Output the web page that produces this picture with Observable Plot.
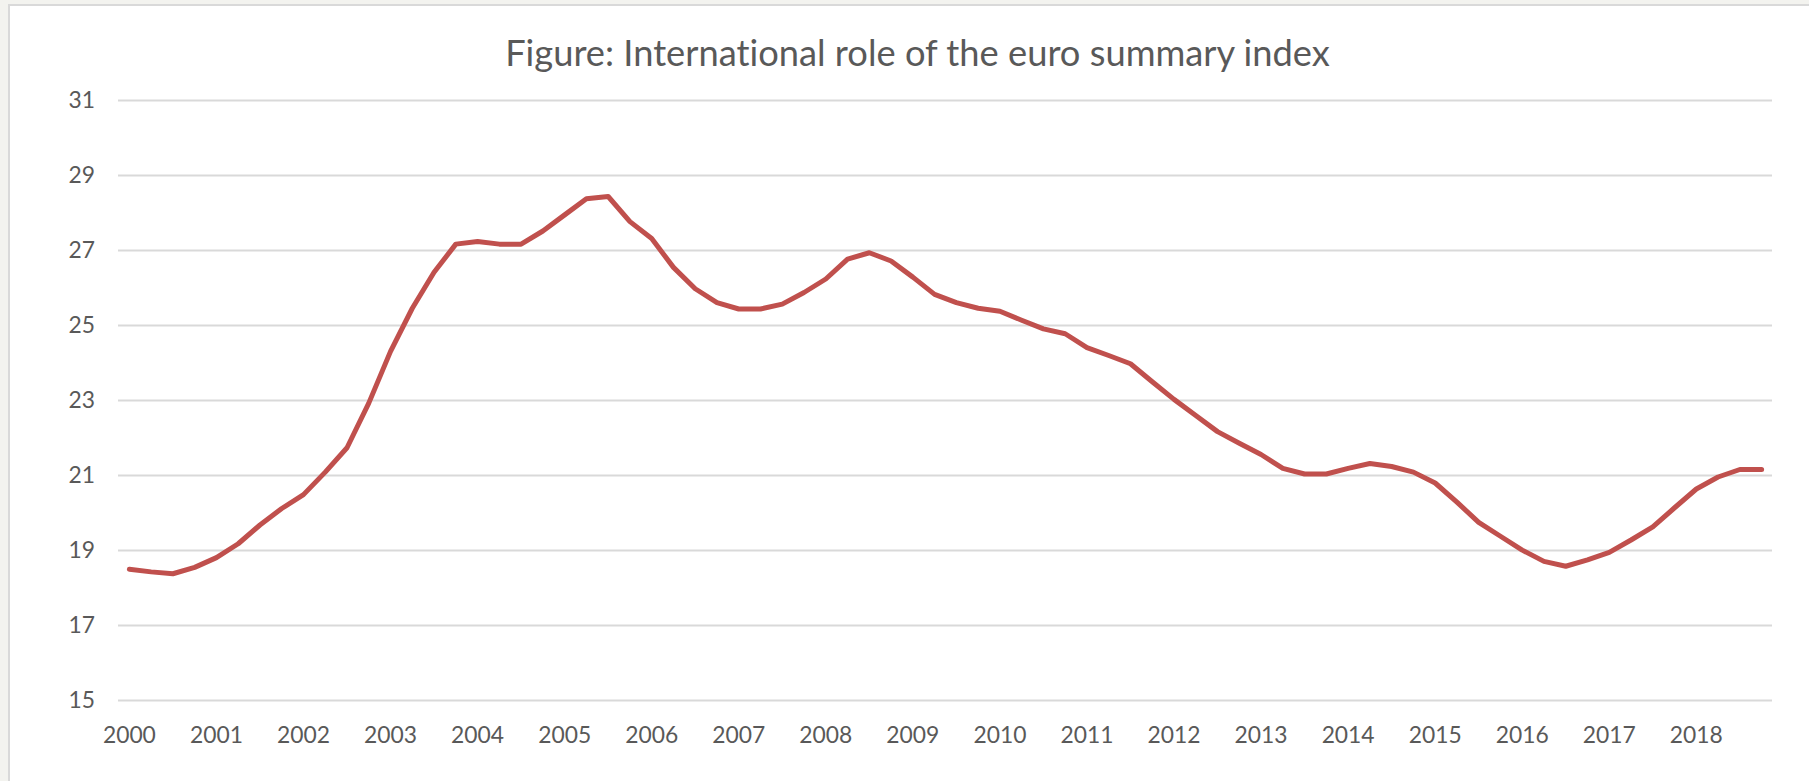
<!DOCTYPE html>
<html>
<head>
<meta charset="utf-8">
<script src="https://cdn.jsdelivr.net/npm/d3@7"></script>
<script src="https://cdn.jsdelivr.net/npm/@observablehq/plot@0.6"></script>
<style>
  html, body { margin: 0; padding: 0; background: #f3f3ef; overflow: hidden; width: 1809px; height: 781px; }
  #frame { position: absolute; left: 8px; top: 4px; width: 1900px; height: 900px; background: #ffffff; border: 2px solid #d9d9d9; }
  #chart { position: absolute; left: 0; top: 0; }
  #title { position: absolute; left: 0; width: 1835px; text-align: center; font-family: Lato, "Open Sans", sans-serif; color: #595959; white-space: nowrap; line-height: 1.2; font-variant-ligatures: none; font-feature-settings: "liga" 0, "clig" 0; }
</style>
</head>
<body>
<div id="frame"></div>
<div id="chart"></div>
<div id="title"></div>
<script>
// ---- Data ----
const titleText = "Figure: International role of the euro summary index";
const years = [2000, 2001, 2002, 2003, 2004, 2005, 2006, 2007, 2008, 2009, 2010, 2011, 2012, 2013, 2014, 2015, 2016, 2017, 2018];
const yTicks = [15, 17, 19, 21, 23, 25, 27, 29, 31];
// Quarterly values, 2000 Q1 .. 2018 Q4
const values = [
  18.50, 18.43, 18.38, 18.55,
  18.81, 19.18, 19.68, 20.12,
  20.49, 21.09, 21.74, 22.93,
  24.31, 25.46, 26.42, 27.17,
  27.24, 27.17, 27.17, 27.52,
  27.95, 28.38, 28.44, 27.77,
  27.32, 26.55, 25.98, 25.61,
  25.44, 25.44, 25.57, 25.88,
  26.24, 26.77, 26.94, 26.72,
  26.29, 25.83, 25.61, 25.46,
  25.38, 25.14, 24.91, 24.78,
  24.41, 24.20, 23.98, 23.50,
  23.03, 22.60, 22.17, 21.86,
  21.56, 21.19, 21.04, 21.04,
  21.19, 21.32, 21.24, 21.09,
  20.80, 20.29, 19.75, 19.38,
  19.01, 18.71, 18.58, 18.75,
  18.95, 19.28, 19.63, 20.14,
  20.64, 20.96, 21.16, 21.16
];
const quarters = values.map((v, i) => ({q: i, v}));

// ---- Font sizing (fit measured text widths) ----
const fam = 'Lato, "Open Sans", sans-serif';
const ctx = document.createElement("canvas").getContext("2d");
function fit(text, target) {
  ctx.font = `100px ${fam}`;
  return target / ctx.measureText(text).width * 100;
}
const titleFs = fit(titleText, 827);
const tickFs = fit("2016", 53);

const titleEl = document.getElementById("title");
titleEl.textContent = titleText;
titleEl.style.fontSize = titleFs + "px";
titleEl.style.top = (67 - 0.987 * titleFs) + "px";

// ---- Chart ----
const chart = Plot.plot({
  width: 1809,
  height: 781,
  marginLeft: 118,
  marginRight: 37,
  marginTop: 100,
  marginBottom: 81,
  style: {fontFamily: fam, fontSize: tickFs + "px", color: "#595959", background: "transparent"},
  x: {
    domain: [-0.5, values.length - 0.5],
    ticks: years.map(y => (y - years[0]) * 4),
    tickFormat: i => String(years[Math.round(i / 4)]),
    tickSize: 0,
    tickPadding: 26,
    label: null
  },
  y: {
    domain: [15, 31],
    ticks: yTicks,
    tickSize: 0,
    tickPadding: 23.5,
    label: null
  },
  marks: [
    Plot.ruleY(yTicks, {stroke: "#d9d9d9", strokeWidth: 2}),
    Plot.line(quarters, {x: "q", y: "v", stroke: "#c0504d", strokeWidth: 5, strokeLinecap: "round", strokeLinejoin: "round"})
  ]
});
document.getElementById("chart").appendChild(chart);
</script>
</body>
</html>
